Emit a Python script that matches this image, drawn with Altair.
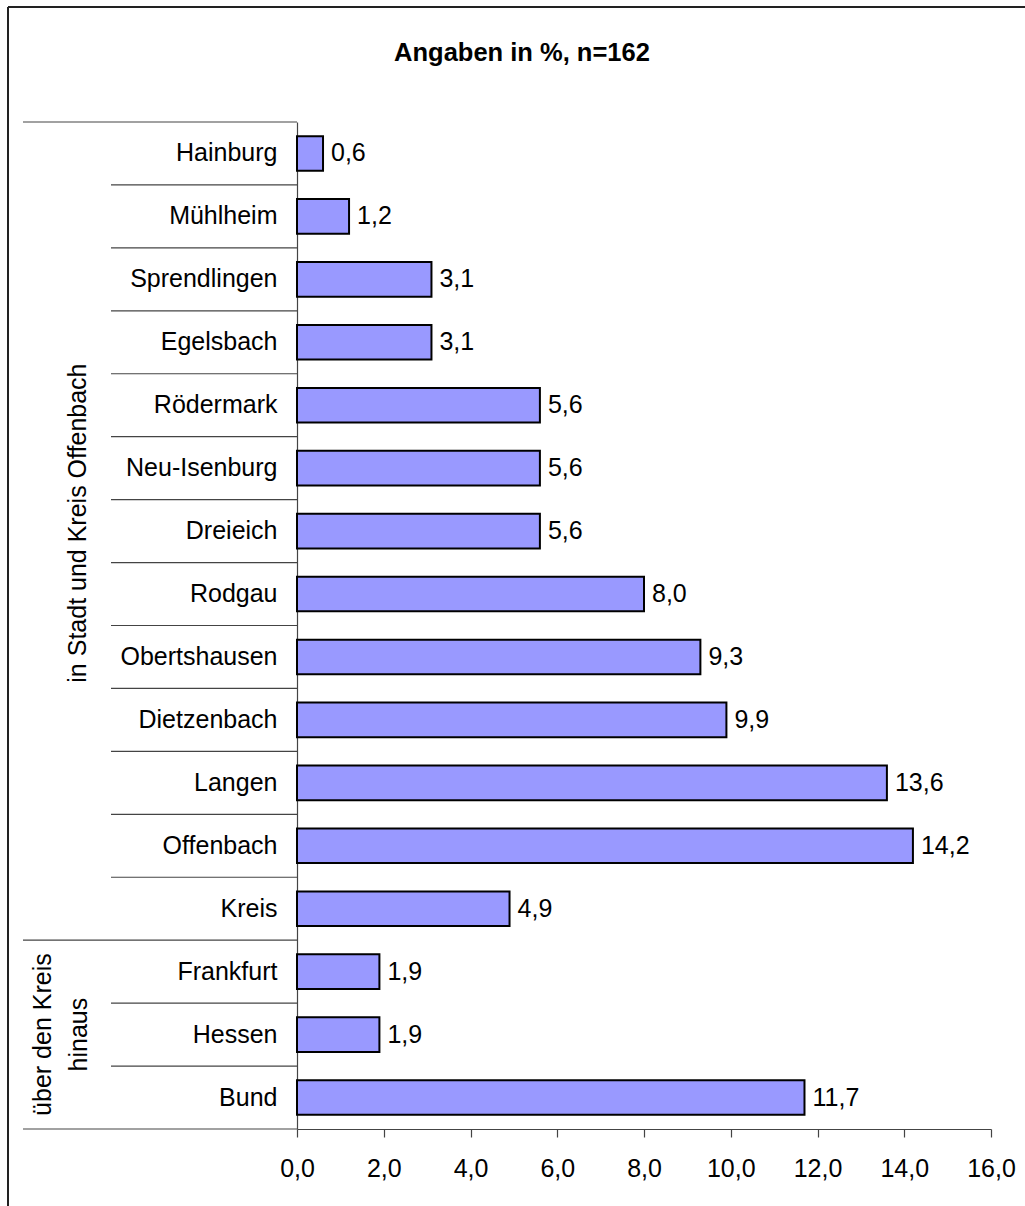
import altair as alt
import pandas as pd

# ---- data ----
categories = ["Hainburg", "Mühlheim", "Sprendlingen", "Egelsbach", "Rödermark",
              "Neu-Isenburg", "Dreieich", "Rodgau", "Obertshausen", "Dietzenbach",
              "Langen", "Offenbach", "Kreis", "Frankfurt", "Hessen", "Bund"]
values = [0.6, 1.2, 3.1, 3.1, 5.6, 5.6, 5.6, 8.0, 9.3, 9.9, 13.6, 14.2, 4.9, 1.9, 1.9, 11.7]
group_names = ["in Stadt und Kreis Offenbach", "über den Kreis\nhinaus"]
group_sizes = [13, 3]
x_ticks = [0, 2, 4, 6, 8, 10, 12, 14, 16]
title_text = "Angaben in %, n=162"

FONT = "Liberation Sans"
FS = 25
LINE = "#444444"

groups = []
first, mid = [], []
for g, n in zip(group_names, group_sizes):
    for i in range(n):
        groups.append(g)
        first.append(i == 0)
        mid.append(i == n // 2)
df = pd.DataFrame({"cat": categories, "val": values, "grp": groups,
                   "first": first, "mid": mid})
df["final"] = [i == len(categories) - 1 for i in range(len(categories))]
df["inner"] = ~df["first"]

yaxis = alt.Axis(title=None, ticks=False, tickSize=0, labelPadding=20,
                 labelFont=FONT, labelFontSize=FS, labelColor="black",
                 domainColor=LINE, domainWidth=1.2, labelLimit=400, grid=False)
yscale = alt.Scale(domain=categories, paddingInner=0, paddingOuter=0)


def Y(**kw):
    return alt.Y("cat:N", sort=categories, scale=yscale, axis=yaxis, **kw)


xaxis = alt.Axis(title=None, values=x_ticks, grid=False, labelFlush=False,
                 labelExpr="replace(format(datum.value, '.1f'), '.', ',')",
                 tickSize=8, tickColor=LINE, tickWidth=1.2,
                 domainColor=LINE, domainWidth=1.2,
                 labelFont=FONT, labelFontSize=FS, labelColor="black",
                 labelPadding=19)
xscale = alt.Scale(domain=[0, 16], nice=False, zero=True)
X = alt.X("val:Q", scale=xscale, axis=xaxis)

base = alt.Chart(df)

bars = base.mark_bar(height={"band": 0.55}, fill="#9999FF", stroke="black",
                     strokeWidth=2).encode(x=X, y=Y())

value_labels = base.transform_calculate(
    lbl="replace(format(datum.val, '.1f'), '.', ',')"
).mark_text(align="left", baseline="middle", dx=8, font=FONT, fontSize=FS,
            color="black").encode(x=X, y=Y(), text="lbl:N")

sep_inner = base.transform_filter("datum.inner").mark_rule(
    color=LINE, strokeWidth=1.2).encode(
    y=Y(bandPosition=0), x=alt.value(-186), x2=alt.value(0))

sep_group = base.transform_filter("datum.first").mark_rule(
    color=LINE, strokeWidth=1.2).encode(
    y=Y(bandPosition=0), x=alt.value(-274), x2=alt.value(0))

sep_bottom = base.transform_filter("datum.final").mark_rule(
    color=LINE, strokeWidth=1.2).encode(
    y=Y(bandPosition=1), x=alt.value(-274), x2=alt.value(0))

grp1 = base.transform_filter(
    alt.datum.mid & (alt.datum.grp == group_names[0])
).mark_text(angle=270, align="center", baseline="middle", font=FONT,
            fontSize=FS, color="black", dx=8).encode(
    y=Y(), x=alt.value(-219), text="grp:N")

grp2 = base.transform_filter(
    alt.datum.mid & (alt.datum.grp == group_names[1])
).mark_text(angle=270, align="center", baseline="middle", font=FONT,
            fontSize=FS, color="black", lineBreak="\n", lineHeight=36).encode(
    y=Y(), x=alt.value(-254), text="grp:N")

title = alt.Chart(pd.DataFrame({"t": [title_text]})).mark_text(
    align="center", baseline="middle", font=FONT, fontSize=25.5,
    fontWeight="bold", color="black").encode(
    x=alt.value(225), y=alt.value(-69), text="t:N")

one = pd.DataFrame({"a": [0]})
frame_top = alt.Chart(one).mark_rule(color="#222222", strokeWidth=2).encode(
    x=alt.value(-289), x2=alt.value(900), y=alt.value(-115))
frame_left = alt.Chart(one).mark_rule(color="#222222", strokeWidth=2).encode(
    x=alt.value(-289), y=alt.value(-115), y2=alt.value(1300))

chart = alt.layer(
    frame_top, frame_left, sep_inner, sep_group, sep_bottom, bars,
    value_labels, grp1, grp2, title
).properties(
    width=694, height=1007,
    padding={"left": 297, "top": 122, "right": 34, "bottom": 77},
    autosize=alt.AutoSizeParams(type="none"),
    background="white",
).configure_view(stroke=None)

chart.save("out.html", embed_options={"renderer": "svg", "actions": False})
